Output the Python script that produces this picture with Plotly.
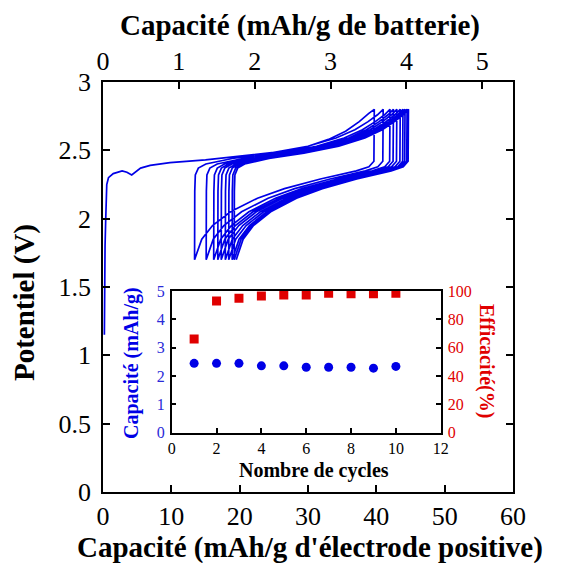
import plotly.graph_objects as go

# ---------------- Data ----------------
# First charge: capacity (mAh/g positive electrode) and potential (V)
first_charge_cap = [0.2, 0.2, 0.3, 0.4, 0.55, 0.8, 1.5, 2.8, 3.5, 4.2, 5.5, 6.9, 9.8,
                    15, 21, 26, 30, 33, 35.5, 37.5, 38.9, 39.7]
first_charge_v = [1.15, 1.5, 1.8, 2.0, 2.25, 2.30, 2.33, 2.35, 2.34, 2.32, 2.37, 2.39, 2.41,
                  2.43, 2.46, 2.49, 2.53, 2.58, 2.64, 2.71, 2.77, 2.80]

# Charge / discharge voltage profiles (fraction of each step's capacity -> potential)
charge_frac = [0, 0.001, 0.004, 0.02, 0.06, 0.2, 0.4, 0.6, 0.75, 0.85, 0.92, 0.97, 1.0]
charge_v = [1.70, 2.20, 2.32, 2.37, 2.40, 2.44, 2.48, 2.53, 2.59, 2.65, 2.71, 2.76, 2.80]
discharge_frac = [0, 0.002, 0.03, 0.1, 0.3, 0.5, 0.65, 0.8, 0.9, 0.96, 1.0]
discharge_v = [2.80, 2.42, 2.38, 2.35, 2.29, 2.22, 2.15, 2.05, 1.95, 1.85, 1.70]

# Capacity at end of each charge (2.8 V) and of each discharge (1.7 V)
charge_end = [39.7, 41.0, 42.0, 42.5, 43.0, 43.5, 43.9, 44.2, 44.5, 44.7]
discharge_end = [13.4, 15.1, 16.2, 16.8, 17.3, 17.9, 18.4, 18.9, 19.2, 19.5]

# Inset
cycles = [1, 2, 3, 4, 5, 6, 7, 8, 9, 10]
capacity = [2.45, 2.45, 2.45, 2.36, 2.36, 2.31, 2.31, 2.31, 2.28, 2.34]
efficiency = [66.2, 93.0, 94.8, 96.5, 97.2, 97.2, 98.4, 98.0, 98.0, 98.4]

main_ticks_x = [0, 10, 20, 30, 40, 50, 60]
top_ticks = [0, 1, 2, 3, 4, 5]
main_ticks_y = [0, 0.5, 1, 1.5, 2, 2.5, 3]
main_ticks_y_text = ["0", "0.5", "1", "1.5", "2", "2.5", "3"]
inset_ticks_x = [0, 2, 4, 6, 8, 10, 12]
inset_ticks_y = [0, 1, 2, 3, 4, 5]
inset_ticks_eff = [0, 20, 40, 60, 80, 100]

# ---------------- Build the galvanostatic curve ----------------
xs = list(first_charge_cap)
ys = list(first_charge_v)
for k in range(len(charge_end)):
    start = charge_end[k]
    end = discharge_end[k]
    for f, v in zip(discharge_frac, discharge_v):
        xs.append(start + f * (end - start))
        ys.append(v)
    if k + 1 < len(charge_end):
        c0 = discharge_end[k]
        c1 = charge_end[k + 1]
        for f, v in zip(charge_frac, charge_v):
            xs.append(c0 + f * (c1 - c0))
            ys.append(v)

BLUE = "#0000e6"
RED = "#e00000"
LBLUE = "#2a2ad8"
FONT = "Liberation Serif, Times New Roman, Times, serif"

# plot area in page pixels; the page body has an 8 px margin
OFF = 8
PW, PH = 564, 563
L, R, T, B = 103, 513, 82, 492
W, H = R - L, B - T


def px(x):
    return (x - L) / W


def py(y):
    return (B - y) / H


fig = go.Figure()
fig.add_trace(go.Scatter(x=xs, y=ys, mode="lines", line=dict(color=BLUE, width=1.7),
                         xaxis="x", yaxis="y", showlegend=False, hoverinfo="skip"))
# invisible trace to activate the top axis
fig.add_trace(go.Scatter(x=[0, 5], y=[0, 0], mode="markers", marker=dict(opacity=0),
                         xaxis="x3", yaxis="y", showlegend=False, hoverinfo="skip"))
fig.add_trace(go.Scatter(x=cycles, y=capacity, mode="markers",
                         marker=dict(color=BLUE, size=9, symbol="circle"),
                         xaxis="x2", yaxis="y2", showlegend=False))
fig.add_trace(go.Scatter(x=cycles, y=efficiency, mode="markers",
                         marker=dict(color=RED, size=9, symbol="square"),
                         xaxis="x2", yaxis="y4", showlegend=False))

tick_font = dict(family=FONT, size=26, color="black")
inset_tick = dict(family=FONT, size=16, color="black")
TS = 29
ITS = 20

common = dict(showline=True, linecolor="black", linewidth=1.5, ticks="inside",
              tickcolor="black", ticklen=7, tickwidth=1.5, showgrid=False, zeroline=False,
              automargin=False)
inset_common = {**common, "ticklen": 5}

fig.update_layout(
    width=PW - OFF, height=PH - OFF,
    margin=dict(l=L - OFF, r=PW - R, t=T - OFF, b=PH - B),
    paper_bgcolor="white", plot_bgcolor="white",
    xaxis=dict(domain=[0, 1], anchor="y", range=[0, 60], tickvals=main_ticks_x,
               mirror=True, tickfont=tick_font, ticklabelstandoff=0, **common),
    xaxis3=dict(overlaying="x", side="top", anchor="y", range=[0, 5.405], tickvals=top_ticks,
                tickfont=tick_font, ticklabelstandoff=0, **common),
    yaxis=dict(domain=[0, 1], anchor="x", range=[0, 3], tickvals=main_ticks_y,
               ticktext=main_ticks_y_text, mirror="ticks", tickfont=tick_font,
               ticklabelstandoff=5, **common),
    xaxis2=dict(domain=[0.1676, 0.8237], anchor="y2", range=[0, 12], tickvals=inset_ticks_x,
                mirror=True, tickfont=inset_tick, ticklabelstandoff=0, **inset_common),
    yaxis2=dict(domain=[0.1444, 0.4903], anchor="x2", range=[0, 5], tickvals=inset_ticks_y,
                tickfont=dict(family=FONT, size=16, color=LBLUE), ticklabelstandoff=2,
                **inset_common),
    yaxis4=dict(overlaying="y2", side="right", anchor="x2", range=[0, 100],
                tickvals=inset_ticks_eff, ticklabelstandoff=2,
                tickfont=dict(family=FONT, size=16, color=RED), **inset_common),
)

annotations = [
    dict(text="Capacité (mAh/g d'électrode positive)", x=px(310), y=py(547),
         font=dict(family=FONT, size=TS, color="black", weight="bold")),
    dict(text="Capacité (mAh/g de batterie)", x=px(300), y=py(25),
         font=dict(family=FONT, size=TS, color="black", weight="bold")),
    dict(text="Potentiel (V)", x=px(24), y=py(303), textangle=-90,
         font=dict(family=FONT, size=TS, color="black", weight="bold")),
    dict(text="Nombre de cycles", x=px(314), y=py(470),
         font=dict(family=FONT, size=ITS, color="black", weight="bold")),
    dict(text="Capacité (mAh/g)", x=px(131), y=py(363), textangle=-90,
         font=dict(family=FONT, size=ITS, color=BLUE, weight="bold")),
    dict(text="Efficacité(%)", x=px(487), y=py(361), textangle=90,
         font=dict(family=FONT, size=ITS, color=RED, weight="bold")),
]
for a in annotations:
    a.update(xref="paper", yref="paper", xanchor="center", yanchor="middle",
             showarrow=False)
fig.update_layout(annotations=annotations)

fig.write_html("out.html")
